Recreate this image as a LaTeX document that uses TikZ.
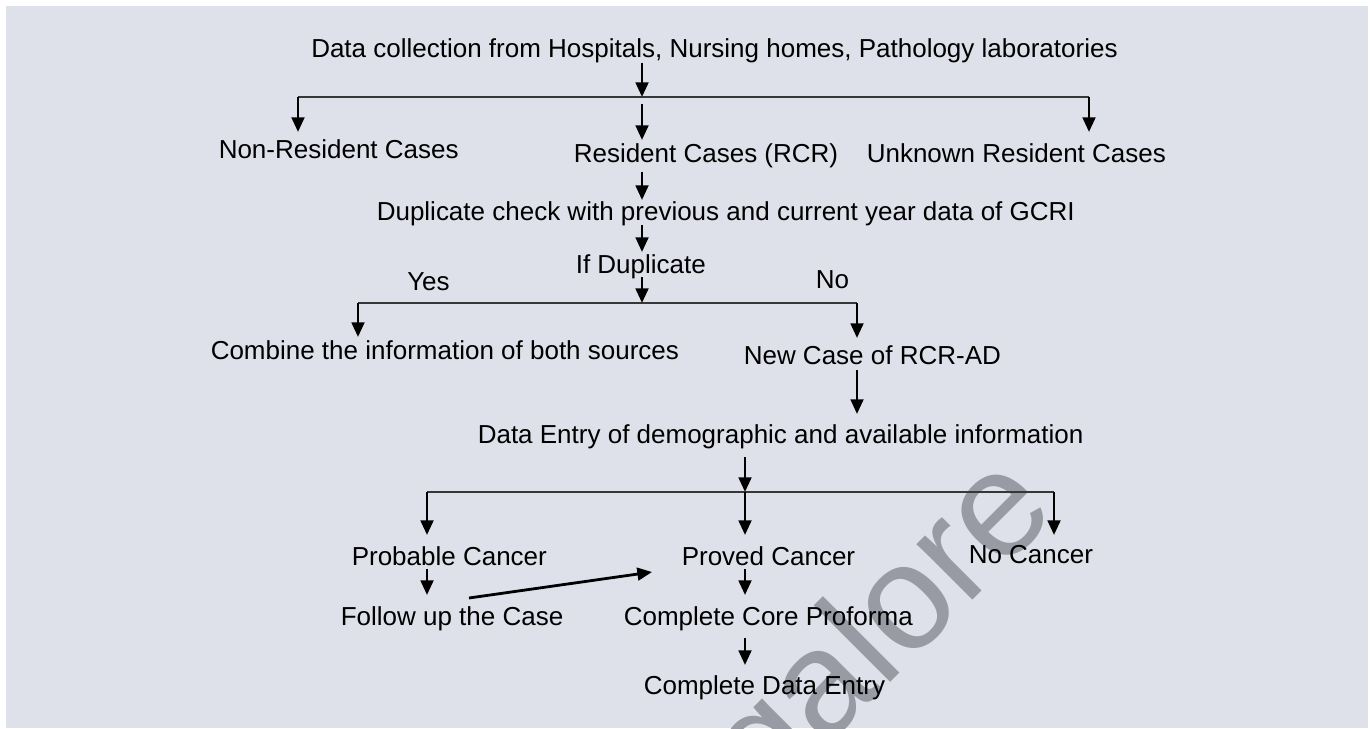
\documentclass[tikz,border=0pt]{standalone}
\usepackage{fontspec}
\setmainfont{Liberation Sans}
\usetikzlibrary{arrows.meta}
\definecolor{bg}{RGB}{223,225,234}
\definecolor{wm}{RGB}{152,155,163}
\definecolor{hl}{RGB}{55,55,58}
\begin{document}
\begin{tikzpicture}[x=0.75pt,y=-0.75pt,
  lbl/.style={inner sep=0pt, anchor=base west, font=\fontsize{19.5}{23}\selectfont},
  arr/.style={line width=2.1pt, -{Triangle[length=11pt,width=9.5pt]}},
  hline/.style={line width=1.1pt, draw=hl}]
\useasboundingbox (0,0) rectangle (1370,728);
\fill[white] (0,0) rectangle (1370,728);
\fill[bg] (6,6) rectangle (1368,728);
\begin{scope}
  \clip (6,6) rectangle (1368,728);
  \node[text=wm, rotate=45, anchor=base east, inner sep=0pt, font=\fontsize{112}{112}\selectfont] (wmk) at (1060,513) {Bangalore};
\end{scope}
% texts
\node[lbl] (src) at (311,57) {Data collection from Hospitals, Nursing homes, Pathology laboratories};
\node[lbl] (nonres) at (218.5,158) {Non-Resident Cases};
\node[lbl] (res) at (573.5,162) {Resident Cases (RCR)};
\node[lbl] (unk) at (866.5,162) {Unknown Resident Cases};
\node[lbl] (dup) at (376.5,220) {Duplicate check with previous and current year data of GCRI};
\node[lbl] (ifdup) at (575.5,273) {If Duplicate};
\node[lbl] (yes) at (407,290) {Yes};
\node[lbl] (no) at (815.5,288) {No};
\node[lbl] (comb) at (210.5,359) {Combine the information of both sources};
\node[lbl] (new) at (743.5,364) {New Case of RCR-AD};
\node[lbl] (entry) at (477.5,443) {Data Entry of demographic and available information};
\node[lbl] (prob) at (351.5,565) {Probable Cancer};
\node[lbl] (proved) at (681.5,565) {Proved Cancer};
\node[lbl] (nocan) at (968.5,563) {No Cancer};
\node[lbl] (follow) at (340.5,625) {Follow up the Case};
\node[lbl] (core) at (623.5,625) {Complete Core Proforma};
\node[lbl] (final) at (643.5,694) {Complete Data Entry};
% junctions and arrow ends
\coordinate (j1) at (642,97);
\coordinate (t1l) at (298,97);
\coordinate (t1r) at (1089,97);
\coordinate (a1) at (298,132);
\coordinate (a2s) at (642,104);
\coordinate (a2) at (642,140);
\coordinate (a3) at (1089,132);
\coordinate (a4s) at (642,172);
\coordinate (a4) at (642,200);
\coordinate (a5s) at (642,225);
\coordinate (a5) at (642,252);
\coordinate (a6s) at (642,277);
\coordinate (j2) at (642,303);
\coordinate (t2l) at (358,303);
\coordinate (t2r) at (857,303);
\coordinate (a7) at (358,337);
\coordinate (a8) at (857,338);
\coordinate (a9s) at (857,370);
\coordinate (a9) at (857,414);
\coordinate (a10s) at (745,457);
\coordinate (j3) at (745,492);
\coordinate (t3l) at (427,492);
\coordinate (t3r) at (1054,492);
\coordinate (a11) at (427,535);
\coordinate (a12) at (745,535);
\coordinate (a13) at (1054,535);
\coordinate (a14s) at (427,569);
\coordinate (a14) at (427,595);
\coordinate (a15s) at (745,569);
\coordinate (a15) at (745,595);
\coordinate (a16s) at (469,598);
\coordinate (a16) at (652,572);
\coordinate (a17s) at (745,638);
\coordinate (a17) at (745,665);
% branch lines
\draw[hline] (t1l) -- (t1r);
\draw[hline] (t2l) -- (t2r);
\draw[hline] (t3l) -- (t3r);
% arrows
\draw[arr] (src.south -| j1) -- (j1);
\draw[arr] (t1l) -- (a1);
\draw[arr] (a2s) -- (a2);
\draw[arr] (t1r) -- (a3);
\draw[arr] (a4s) -- (a4);
\draw[arr] (a5s) -- (a5);
\draw[arr] (a6s) -- (j2);
\draw[arr] (t2l) -- (a7);
\draw[arr] (t2r) -- (a8);
\draw[arr] (a9s) -- (a9);
\draw[arr] (a10s) -- (j3);
\draw[arr] (t3l) -- (a11);
\draw[arr] (j3) -- (a12);
\draw[arr] (t3r) -- (a13);
\draw[arr] (a14s) -- (a14);
\draw[arr] (a15s) -- (a15);
\draw[arr] (a16s) -- (a16);
\draw[arr] (a17s) -- (a17);
\end{tikzpicture}
\end{document}
